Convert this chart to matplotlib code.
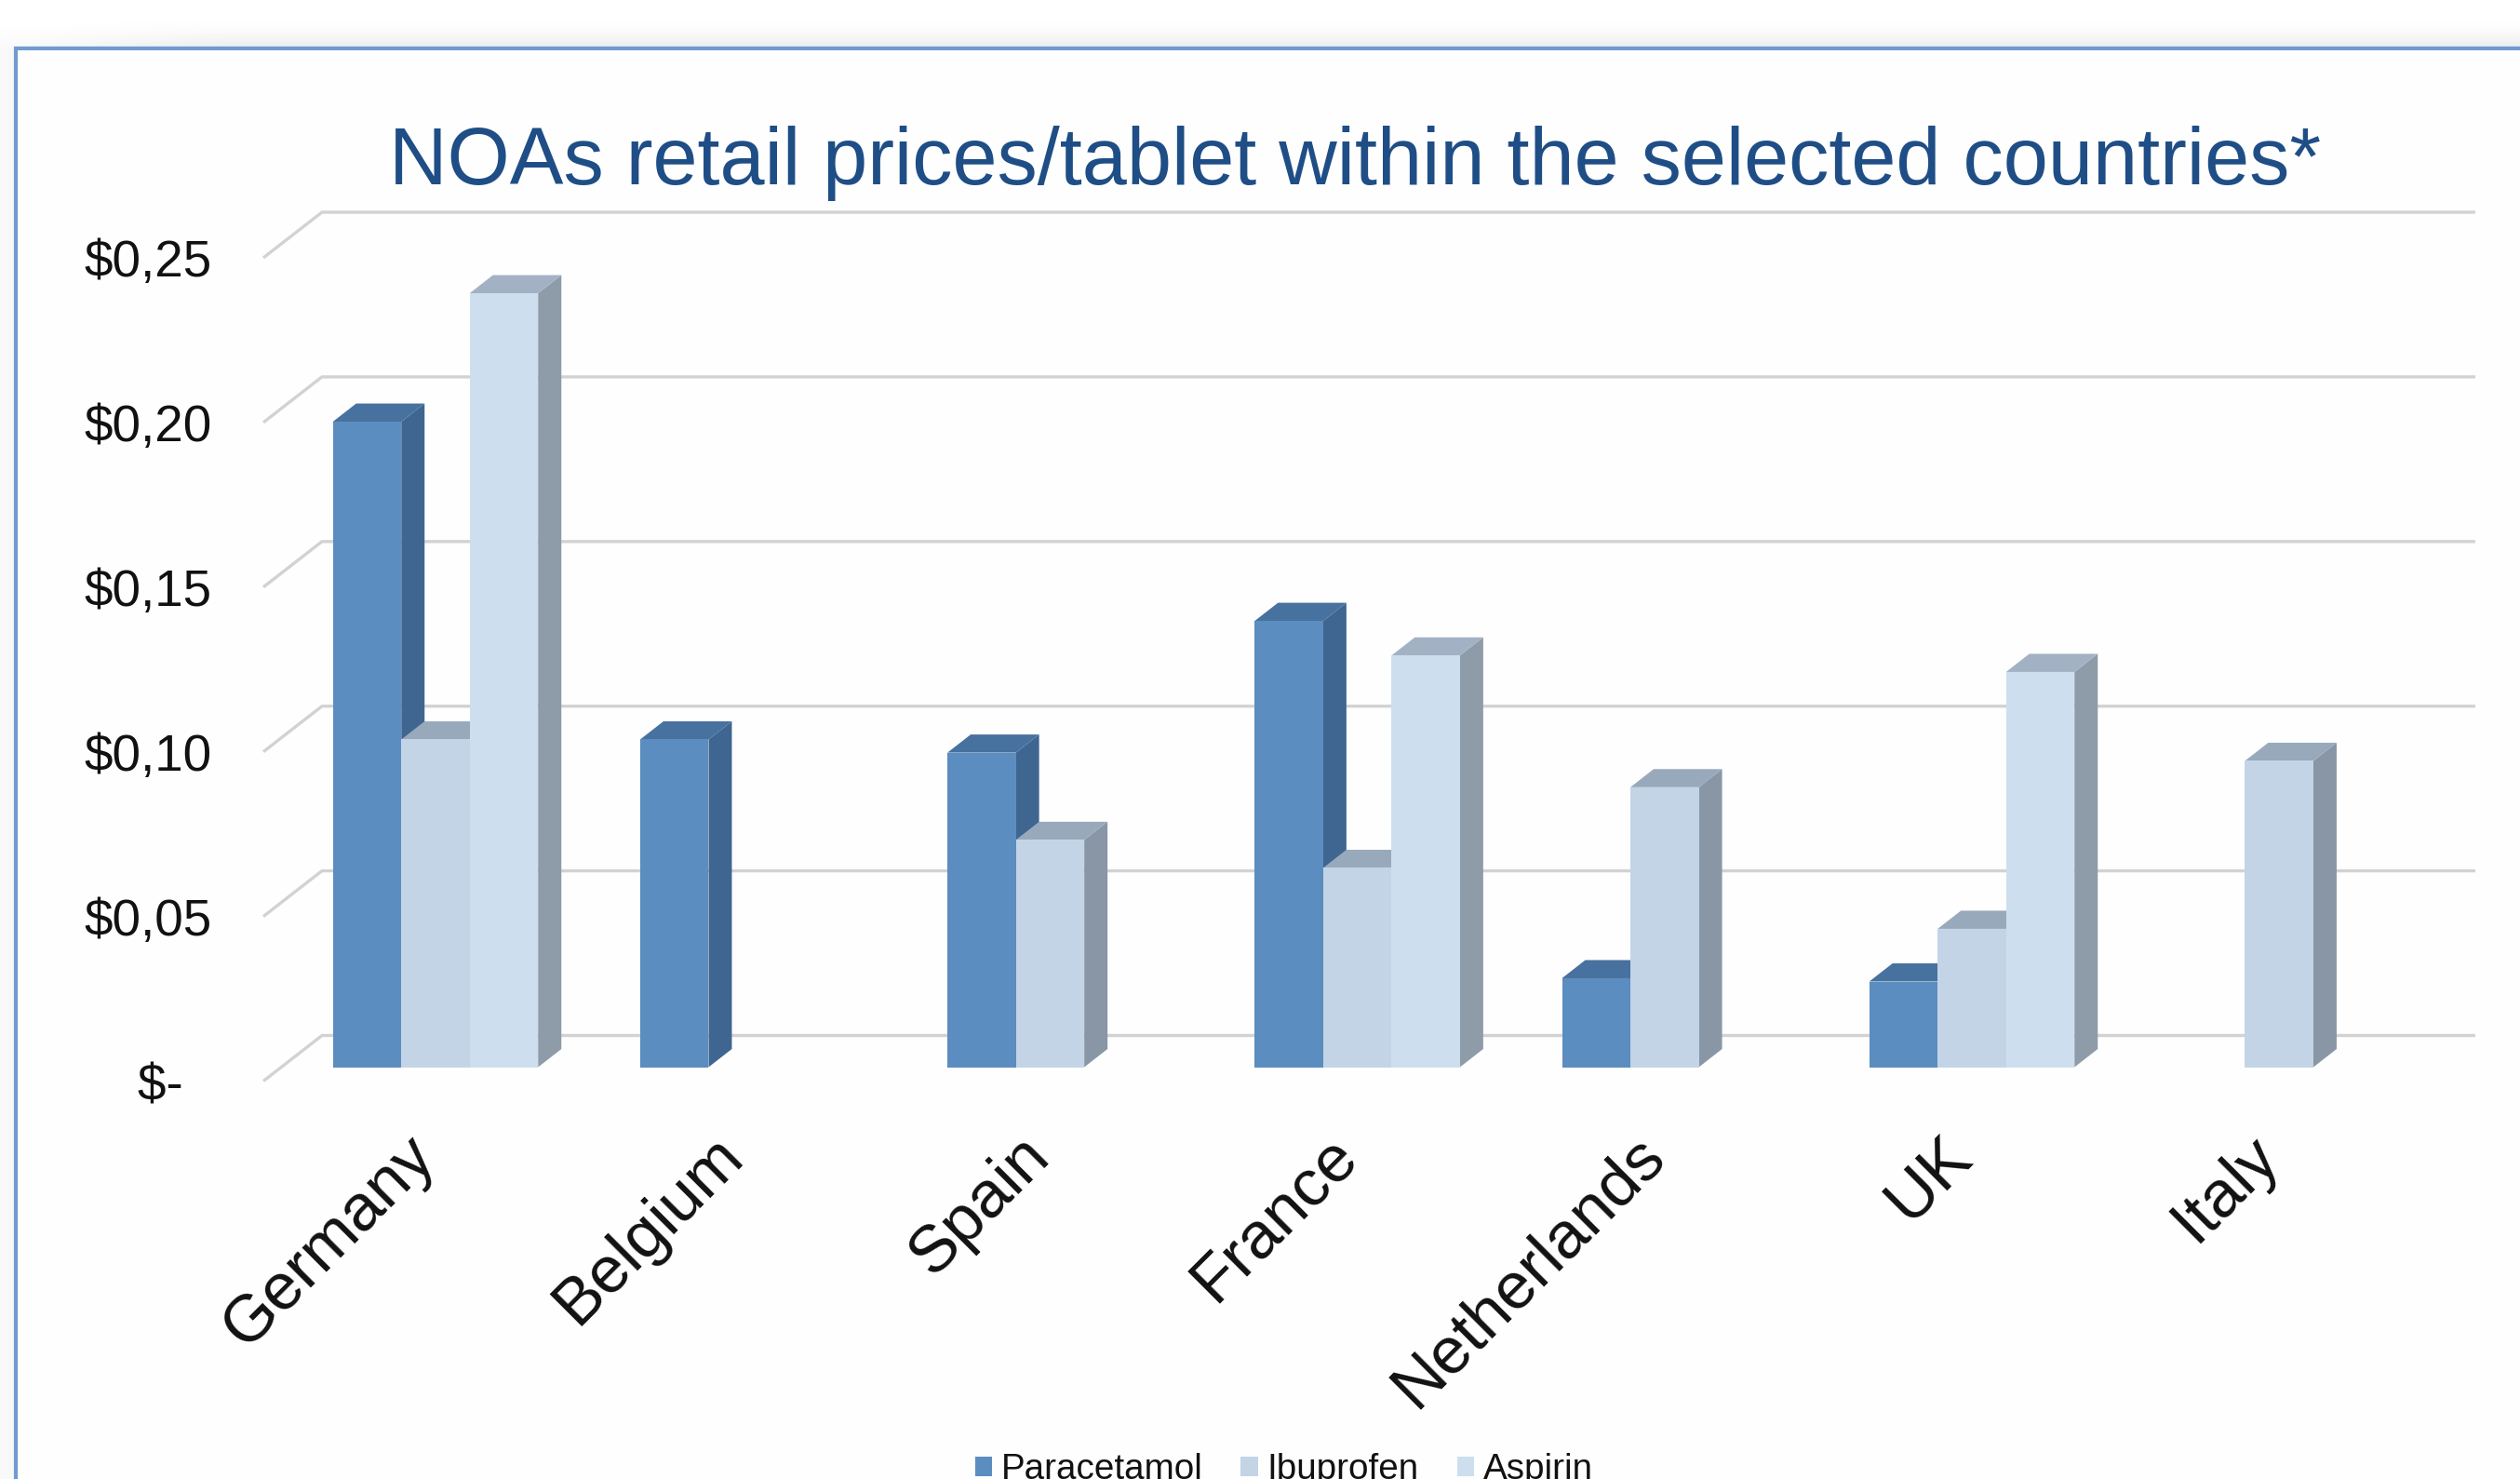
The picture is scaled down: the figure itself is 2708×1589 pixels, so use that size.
import numpy as np
import matplotlib
matplotlib.use("Agg")
import matplotlib.pyplot as plt
from matplotlib.patches import Polygon, Rectangle
from matplotlib.transforms import ScaledTranslation

plt.rcParams['font.family'] = ['Liberation Sans', 'DejaVu Sans']

countries = ['Germany', 'Belgium', 'Spain', 'France', 'Netherlands', 'UK', 'Italy']
series_names = ['Paracetamol', 'Ibuprofen', 'Aspirin']
paracetamol = [0.196, 0.0995, 0.0955, 0.1355, 0.027, 0.026, None]
ibuprofen = [0.0995, None, 0.069, 0.0605, 0.085, 0.042, 0.093]
aspirin = [0.235, None, None, 0.125, None, 0.12, None]
ytick_values = [0, 0.05, 0.10, 0.15, 0.20, 0.25]
ytick_labels = ['\\$-  ', '\\$0,05', '\\$0,10', '\\$0,15', '\\$0,20', '\\$0,25']
title = 'NOAs retail prices/tablet within the selected countries*'

front_cols = ['#5B8DC0', '#C3D4E7', '#CDDFEF']
side_cols = ['#3F6690', '#8896A6', '#8E9BA8']
top_cols = ['#47719E', '#98A9BC', '#A2B2C4']

W, H = 2708, 1589
fig = plt.figure(figsize=(W / 100, H / 100), dpi=100, facecolor='white')

# page background: soft shadow above and left of the panel
bg = fig.add_axes([0, 0, 1, 1], zorder=0)
bg.set_axis_off()
yy, xx = np.mgrid[0:H, 0:W]
shade_top = np.clip((yy - 14) / 38, 0, 1) ** 2 * 0.085 * np.clip(xx / 350 + 0.3, 0, 1)
shade_left = np.clip(xx / 17, 0, 1) ** 2 * 0.04 * np.clip((yy - 30) / 60, 0, 1)
img = 1 - np.maximum(shade_top, shade_left)
bg.imshow(img, cmap='gray', vmin=0, vmax=1, extent=(0, W, H, 0), aspect='auto', interpolation='bilinear')
bg.add_patch(Rectangle((17, 52), W + 50, H, facecolor='#FEFEFE', edgecolor='#6F9BD1', lw=3.0))
bg.set_xlim(0, W)
bg.set_ylim(H, 0)

# plot axes in pixel-calibrated position
L, R, T, B = 283, 2660, 220, 1162
ax = fig.add_axes([L / W, 1 - B / H, (R - L) / W, (B - T) / H], zorder=1)
ax.patch.set_alpha(0)
ppx_y = 0.05 / 177            # data units per pixel, vertical
step = 330.2                  # pixels per category
cx0 = 468.0
ax.set_xlim((L - cx0) / step, (R - cx0) / step)
ax.set_ylim(-(B - 1147) * ppx_y, (1147 - T) * ppx_y)
bw = 73.5 / step
dx, dy = 25 / step, 19.5 * ppx_y
wall_dx, wall_dy = (346 - L) / step, 34 * ppx_y
drop = 15 * ppx_y
x_left = ax.get_xlim()[0]
x_right = ax.get_xlim()[1]

for v in ytick_values:
    ax.plot([x_left, x_left + wall_dx, x_right], [v - drop, v + wall_dy, v + wall_dy],
            color='#D2D2D2', lw=2.4, zorder=1, solid_capstyle='butt', clip_on=False)

series = [paracetamol, ibuprofen, aspirin]
z = 2
for i in range(len(countries)):
    for s, vals in enumerate(series):
        v = vals[i]
        if v is None:
            continue
        x0 = i - 1.5 * bw + s * bw
        x1 = x0 + bw
        ax.add_patch(Polygon([(x1, 0), (x1 + dx, dy), (x1 + dx, v + dy), (x1, v)],
                             fc=side_cols[s], ec='none', zorder=z))
        ax.add_patch(Polygon([(x0, v), (x1, v), (x1 + dx, v + dy), (x0 + dx, v + dy)],
                             fc=top_cols[s], ec='none', zorder=z + 0.1))
        ax.bar(x0, v, width=bw, align='edge', color=front_cols[s], zorder=z + 0.2, linewidth=0)
        z += 1

for sp in ax.spines.values():
    sp.set_visible(False)
ax.set_yticks(np.array(ytick_values) - drop - 0.5 * ppx_y, ytick_labels)
ax.set_xticks(range(len(countries)), countries)
ax.tick_params(axis='y', length=0, pad=40, labelsize=39.5, labelcolor='#111111')
ax.tick_params(axis='x', length=0, pad=33.6, labelsize=51, labelcolor='#111111')
shift = ScaledTranslation(-34 / 100, 0, fig.dpi_scale_trans)
for lab in ax.get_xticklabels():
    lab.set_rotation(45)
    lab.set_ha('right')
    lab.set_va('top')
    lab.set_rotation_mode('anchor')
    lab.set_transform(lab.get_transform() + shift)

fig.text(1456 / W, 1 - 198 / H, title, ha='center', va='baseline', fontsize=62.3, color='#1F4E86')

handles = [Rectangle((0, 0), 1, 1, fc=c, ec='none') for c in front_cols]
fig.legend(handles, series_names, loc='upper left', bbox_to_anchor=(1047.5 / W, 1 - 1561 / H),
           ncol=3, frameon=False, fontsize=27.8, handlelength=0.47, handleheight=0.47,
           handletextpad=0.26, columnspacing=1.06, borderpad=0, borderaxespad=0,
           labelcolor='#111111')

fig.savefig('out.png', dpi=100)
